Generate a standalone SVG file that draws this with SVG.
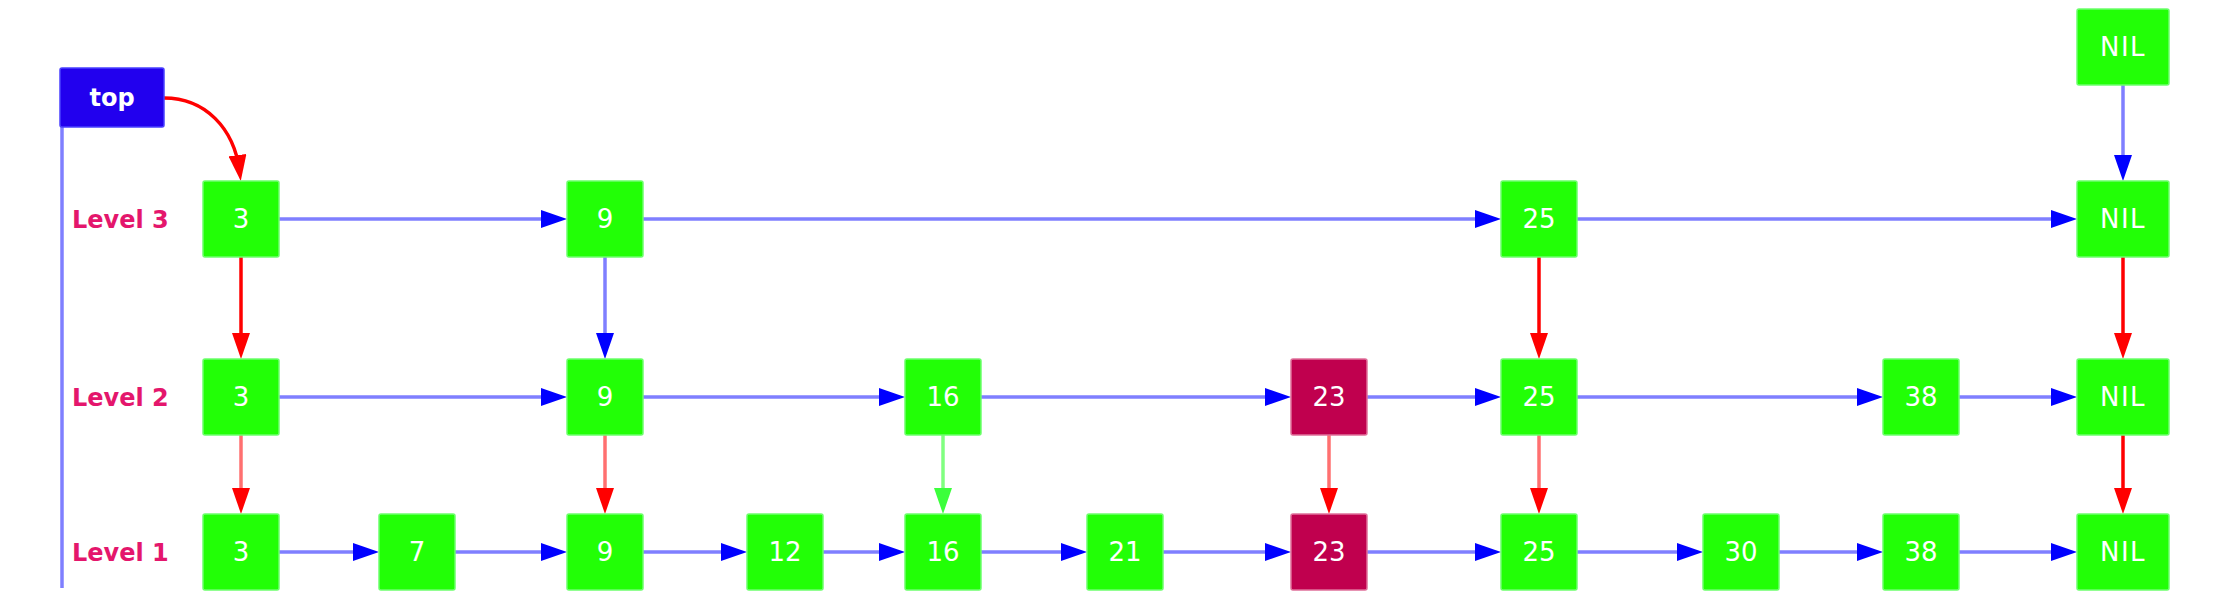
<svg xmlns="http://www.w3.org/2000/svg" width="2220" height="594" viewBox="0 0 2220 594">
<style>
.bg{fill:#ffffff}
.n rect{fill:#22ff06;stroke:#6dff6d;stroke-width:1.5}
.n.hl rect{fill:#c0004e;stroke:#e0709a}
.n text{fill:#ffffff;font-family:"DejaVu Sans","Liberation Sans",sans-serif;font-size:26px;text-anchor:middle}
.nil text{letter-spacing:1.5px}
.topn rect{fill:#2200ee;stroke:#4a40ff;stroke-width:1.5}
.topn text{fill:#ffffff;font-family:"DejaVu Sans","Liberation Sans",sans-serif;font-weight:bold;font-size:24px;text-anchor:middle}
.lvl{fill:#e4166c;font-family:"DejaVu Sans","Liberation Sans",sans-serif;font-weight:bold;font-size:24px}
.e{fill:none;stroke-width:3.5}
.b{stroke:#7f7fff;marker-end:url(#ab)}
.r{stroke:#ff0000;marker-end:url(#ar)}
.lr{stroke:#ff7070;marker-end:url(#ar)}
.lg{stroke:#80ff80;marker-end:url(#ag)}
.rail{stroke:#7f7fff;stroke-width:3.5;fill:none}
</style>
<defs>
<marker id="ab" markerUnits="userSpaceOnUse" viewBox="0 0 26 18" markerWidth="26" markerHeight="18" refX="16" refY="9" orient="auto"><path d="M0,0 L26,9 L0,18 z" fill="#0000ff"/></marker>
<marker id="ar" markerUnits="userSpaceOnUse" viewBox="0 0 26 18" markerWidth="26" markerHeight="18" refX="16" refY="9" orient="auto"><path d="M0,0 L26,9 L0,18 z" fill="#ff0000"/></marker>
<marker id="ag" markerUnits="userSpaceOnUse" viewBox="0 0 26 18" markerWidth="26" markerHeight="18" refX="16" refY="9" orient="auto"><path d="M0,0 L26,9 L0,18 z" fill="#3cff3c"/></marker>
</defs>
<rect class="bg" x="0" y="0" width="2220" height="594"/>

<g id="connectors">
<line class="rail" x1="62" y1="127" x2="62" y2="588"/>
<path class="e r" d="M164,98 C205,98 234,128 239.5,171"/>
<!-- level 3 -->
<line class="e b" x1="279" y1="219" x2="557" y2="219"/>
<line class="e b" x1="643" y1="219" x2="1491" y2="219"/>
<line class="e b" x1="1577" y1="219" x2="2067" y2="219"/>
<!-- level 2 -->
<line class="e b" x1="279" y1="397" x2="557" y2="397"/>
<line class="e b" x1="643" y1="397" x2="895" y2="397"/>
<line class="e b" x1="981" y1="397" x2="1281" y2="397"/>
<line class="e b" x1="1367" y1="397" x2="1491" y2="397"/>
<line class="e b" x1="1577" y1="397" x2="1873" y2="397"/>
<line class="e b" x1="1959" y1="397" x2="2067" y2="397"/>
<!-- level 1 -->
<line class="e b" x1="279" y1="552" x2="369" y2="552"/>
<line class="e b" x1="455" y1="552" x2="557" y2="552"/>
<line class="e b" x1="643" y1="552" x2="737" y2="552"/>
<line class="e b" x1="823" y1="552" x2="895" y2="552"/>
<line class="e b" x1="981" y1="552" x2="1077" y2="552"/>
<line class="e b" x1="1163" y1="552" x2="1281" y2="552"/>
<line class="e b" x1="1367" y1="552" x2="1491" y2="552"/>
<line class="e b" x1="1577" y1="552" x2="1693" y2="552"/>
<line class="e b" x1="1779" y1="552" x2="1873" y2="552"/>
<line class="e b" x1="1959" y1="552" x2="2067" y2="552"/>
<!-- verticals -->
<line class="e b" x1="2123" y1="85" x2="2123" y2="171"/>
<line class="e r" x1="241" y1="257" x2="241" y2="349"/>
<line class="e b" x1="605" y1="257" x2="605" y2="349"/>
<line class="e r" x1="1539" y1="257" x2="1539" y2="349"/>
<line class="e r" x1="2123" y1="257" x2="2123" y2="349"/>
<line class="e lr" x1="241" y1="435" x2="241" y2="504"/>
<line class="e lr" x1="605" y1="435" x2="605" y2="504"/>
<line class="e lg" x1="943" y1="435" x2="943" y2="504"/>
<line class="e lr" x1="1329" y1="435" x2="1329" y2="504"/>
<line class="e lr" x1="1539" y1="435" x2="1539" y2="504"/>
<line class="e r" x1="2123" y1="435" x2="2123" y2="504"/>
</g>

<g id="top" class="topn"><rect x="60" y="68" width="104" height="59" rx="2"/><text x="112" y="106">top</text></g>
<text id="level3" class="lvl" x="72" y="228">Level 3</text>
<text id="level2" class="lvl" x="72" y="406">Level 2</text>
<text id="level1" class="lvl" x="72" y="561">Level 1</text>

<g id="nil0" class="n nil"><rect x="2077" y="9" width="92" height="76" rx="2"/><text x="2123" y="56">NIL</text></g>

<g id="l3_3" class="n"><rect x="203" y="181" width="76" height="76" rx="2"/><text x="241" y="228">3</text></g>
<g id="l3_9" class="n"><rect x="567" y="181" width="76" height="76" rx="2"/><text x="605" y="228">9</text></g>
<g id="l3_25" class="n"><rect x="1501" y="181" width="76" height="76" rx="2"/><text x="1539" y="228">25</text></g>
<g id="l3_nil" class="n nil"><rect x="2077" y="181" width="92" height="76" rx="2"/><text x="2123" y="228">NIL</text></g>

<g id="l2_3" class="n"><rect x="203" y="359" width="76" height="76" rx="2"/><text x="241" y="406">3</text></g>
<g id="l2_9" class="n"><rect x="567" y="359" width="76" height="76" rx="2"/><text x="605" y="406">9</text></g>
<g id="l2_16" class="n"><rect x="905" y="359" width="76" height="76" rx="2"/><text x="943" y="406">16</text></g>
<g id="l2_23" class="n hl"><rect x="1291" y="359" width="76" height="76" rx="2"/><text x="1329" y="406">23</text></g>
<g id="l2_25" class="n"><rect x="1501" y="359" width="76" height="76" rx="2"/><text x="1539" y="406">25</text></g>
<g id="l2_38" class="n"><rect x="1883" y="359" width="76" height="76" rx="2"/><text x="1921" y="406">38</text></g>
<g id="l2_nil" class="n nil"><rect x="2077" y="359" width="92" height="76" rx="2"/><text x="2123" y="406">NIL</text></g>

<g id="l1_3" class="n"><rect x="203" y="514" width="76" height="76" rx="2"/><text x="241" y="561">3</text></g>
<g id="l1_7" class="n"><rect x="379" y="514" width="76" height="76" rx="2"/><text x="417" y="561">7</text></g>
<g id="l1_9" class="n"><rect x="567" y="514" width="76" height="76" rx="2"/><text x="605" y="561">9</text></g>
<g id="l1_12" class="n"><rect x="747" y="514" width="76" height="76" rx="2"/><text x="785" y="561">12</text></g>
<g id="l1_16" class="n"><rect x="905" y="514" width="76" height="76" rx="2"/><text x="943" y="561">16</text></g>
<g id="l1_21" class="n"><rect x="1087" y="514" width="76" height="76" rx="2"/><text x="1125" y="561">21</text></g>
<g id="l1_23" class="n hl"><rect x="1291" y="514" width="76" height="76" rx="2"/><text x="1329" y="561">23</text></g>
<g id="l1_25" class="n"><rect x="1501" y="514" width="76" height="76" rx="2"/><text x="1539" y="561">25</text></g>
<g id="l1_30" class="n"><rect x="1703" y="514" width="76" height="76" rx="2"/><text x="1741" y="561">30</text></g>
<g id="l1_38" class="n"><rect x="1883" y="514" width="76" height="76" rx="2"/><text x="1921" y="561">38</text></g>
<g id="l1_nil" class="n nil"><rect x="2077" y="514" width="92" height="76" rx="2"/><text x="2123" y="561">NIL</text></g>
</svg>
